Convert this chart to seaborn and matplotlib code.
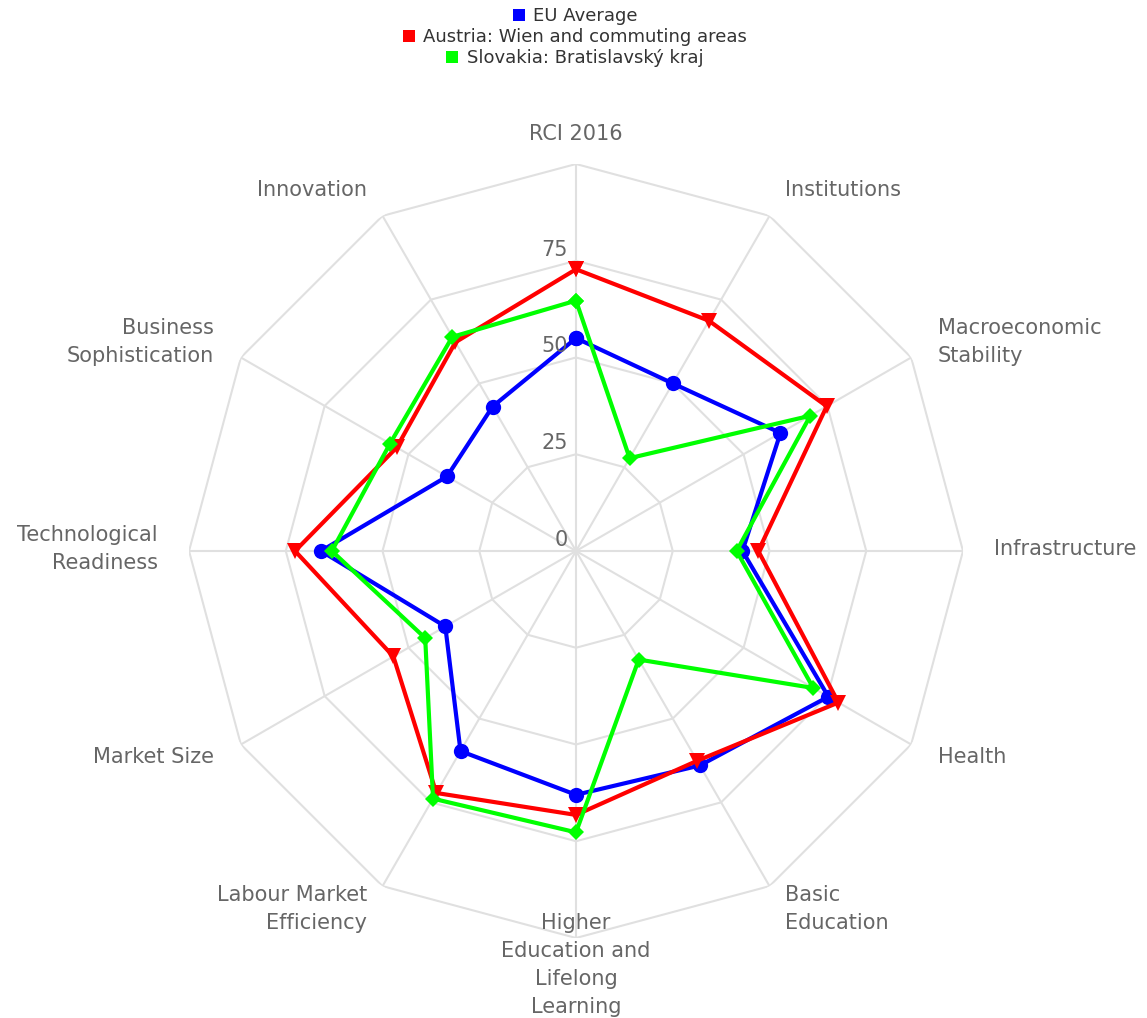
import numpy as np
import pandas as pd
import matplotlib
matplotlib.use('Agg')
import matplotlib.pyplot as plt
import seaborn as sns
from matplotlib.lines import Line2D

# dane: kategorie i wartości
categories = ['RCI 2016', 'Institutions', 'Macroeconomic\nStability', 'Infrastructure',
              'Health', 'Basic\nEducation', 'Higher\nEducation and\nLifelong\nLearning',
              'Labour Market\nEfficiency', 'Market Size', 'Technological\nReadiness',
              'Business\nSophistication', 'Innovation']
eu_average = [55, 50, 61, 43, 75.3, 64, 63, 59.7, 39, 65.9, 38.5, 43.1]
austria = [72.8, 68.7, 74.8, 47.1, 78.3, 62.6, 68.2, 72.2, 54.5, 72.6, 53.5, 62.3]
slovakia = [64.7, 27.7, 69.9, 41.5, 70.8, 32.4, 72.7, 73.9, 45, 63.1, 55.5, 63.9]
series_names = ['EU Average', 'Austria: Wien and commuting areas', 'Slovakia: Bratislavský kraj']
ring_values = [0, 25, 50, 75]

colors = {'EU Average': '#0000ff',
          'Austria: Wien and commuting areas': '#ff0000',
          'Slovakia: Bratislavský kraj': '#00ff00'}
markers = {'EU Average': 'o',
           'Austria: Wien and commuting areas': 'v',
           'Slovakia: Bratislavský kraj': 'D'}
msizes = {'EU Average': 11, 'Austria: Wien and commuting areas': 11.5,
          'Slovakia: Bratislavský kraj': 8.5}

sns.set_style('white')
plt.rcParams['font.family'] = ['DejaVu Sans']

n = len(categories)
theta = np.arange(n) * 2 * np.pi / n
theta_closed = np.append(theta, 2 * np.pi)

rows = []
for name, vals in zip(series_names, [eu_average, austria, slovakia]):
    closed = list(vals) + [vals[0]]
    for t, v in zip(theta_closed, closed):
        rows.append({'series': name, 'theta': t, 'value': v})
df = pd.DataFrame(rows)

fig = plt.figure(figsize=(11.47, 10.18), dpi=100)
ax = fig.add_axes([0.1648, 0.0786, 0.6748, 0.7603], projection='polar')
ax.set_theta_zero_location('N')
ax.set_theta_direction(-1)
ax.set_ylim(0, 100)
ax.grid(False)
ax.spines['polar'].set_visible(False)
ax.set_xticks([])
ax.set_yticks([])

# siatka wielokątna
grid_col = '#e0e0e0'
for r in [25, 50, 75, 100]:
    ax.plot(theta_closed, [r] * (n + 1), color=grid_col, lw=1.5, zorder=1)
for t in theta:
    ax.plot([t, t], [0, 100], color=grid_col, lw=1.5, zorder=1)

for name in series_names:
    sub = df[df['series'] == name]
    sns.lineplot(data=sub, x='theta', y='value', sort=False, estimator=None,
                 color=colors[name], marker=markers[name], markersize=msizes[name],
                 markeredgewidth=0, linewidth=3, ax=ax, legend=False, zorder=3)
ax.set_xlabel('')
ax.set_ylabel('')
ax.set_ylim(0, 100)

# etykiety osi
for t, lab in zip(theta, categories):
    s = np.sin(t)
    ha = 'left' if s > 0.01 else ('right' if s < -0.01 else 'center')
    dy = 1.2 - 2 * np.cos(t)
    ax.annotate(lab, xy=(t, 108), xytext=(0, dy), textcoords='offset points',
                ha=ha, va='center', fontsize=15, color='#666666',
                linespacing=1.5, annotation_clip=False)

for v in ring_values:
    ax.annotate(str(v), xy=(0, v), xytext=(-6, 8), textcoords='offset points',
                ha='right', va='center', fontsize=15, color='#666666')

# legenda - każdy wpis wyśrodkowany osobno
legend_y = [0.9843, 0.9636, 0.943]
for nm, yy in zip(series_names, legend_y):
    h = Line2D([], [], ls='none', marker='s', markersize=8,
               markerfacecolor=colors[nm], markeredgewidth=0)
    fig.legend([h], [nm], loc='center', bbox_to_anchor=(0.5, yy),
               frameon=False, fontsize=13, handletextpad=0.3,
               handlelength=1.0, borderpad=0.0, labelcolor='#333333')

fig.savefig('out.png', dpi=100)
